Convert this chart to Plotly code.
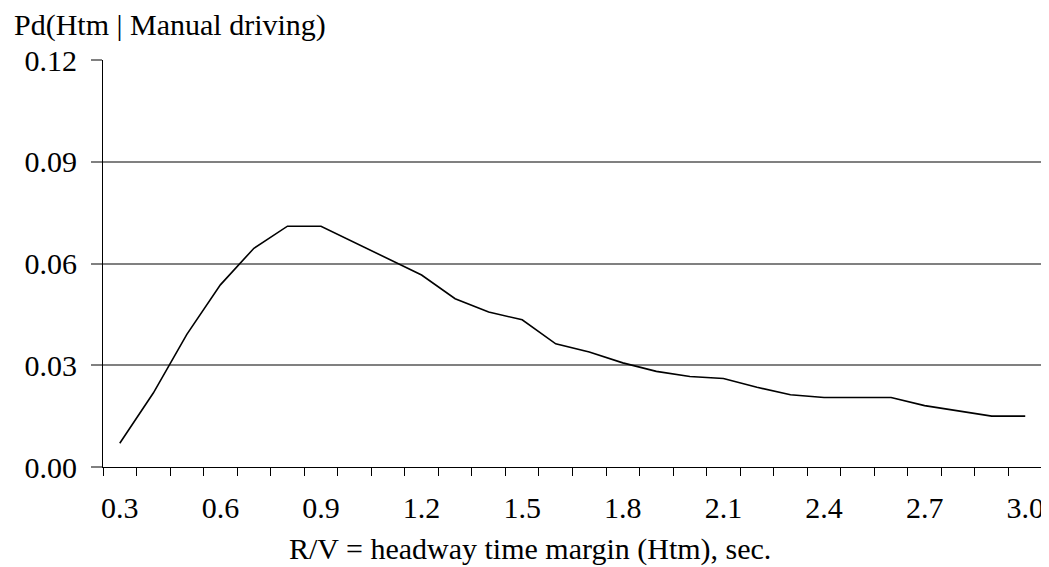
import plotly.graph_objects as go

htm = [0.3, 0.4, 0.5, 0.6, 0.7, 0.8, 0.9, 1.0, 1.1, 1.2, 1.3, 1.4, 1.5, 1.6,
       1.7, 1.8, 1.9, 2.0, 2.1, 2.2, 2.3, 2.4, 2.5, 2.6, 2.7, 2.8, 2.9, 3.0]
pd_manual = [0.0070, 0.0218, 0.0391, 0.0537, 0.0645, 0.0710, 0.0710, 0.0662,
             0.0615, 0.0566, 0.0496, 0.0457, 0.0434, 0.0363, 0.0339, 0.0307,
             0.0282, 0.0267, 0.0261, 0.0235, 0.0213, 0.0205, 0.0205, 0.0205,
             0.0181, 0.0166, 0.0150, 0.0150]
x_tick_vals = [0.3, 0.6, 0.9, 1.2, 1.5, 1.8, 2.1, 2.4, 2.7, 3.0]
x_tick_text = ["0.3", "0.6", "0.9", "1.2", "1.5", "1.8", "2.1", "2.4", "2.7", "3.0"]
y_tick_vals = [0.00, 0.03, 0.06, 0.09, 0.12]
y_tick_text = ["0.00", "0.03", "0.06", "0.09", "0.12"]

FONT = "Liberation Serif, Times New Roman, serif"
FS = 30

fig = go.Figure()
fig.add_trace(go.Scatter(x=htm, y=pd_manual, mode="lines",
                         line=dict(color="black", width=1.6),
                         showlegend=False, hoverinfo="skip"))

fig.update_layout(
    width=1041, height=559,
    margin=dict(l=95, r=7, t=52, b=100),
    paper_bgcolor="white", plot_bgcolor="white",
    font=dict(family=FONT, size=FS, color="black"),
    xaxis=dict(range=[0.25, 3.05], tickmode="array", tickvals=x_tick_vals,
               ticktext=x_tick_text, ticks="", showgrid=False, zeroline=False,
               showline=True, linecolor="black", linewidth=1,
               ticklabelstandoff=14, automargin=False,
               minor=dict(ticks="outside", ticklen=8, tick0=0.25, dtick=0.1,
                          tickcolor="black", tickwidth=1, showgrid=False)),
    yaxis=dict(range=[0, 0.12], tickmode="array", tickvals=y_tick_vals,
               ticktext=y_tick_text, ticks="outside", ticklen=11,
               tickcolor="#808080", tickwidth=1.5, showgrid=True,
               gridcolor="#808080", gridwidth=1.5, zeroline=False,
               showline=True, linecolor="black", linewidth=1,
               ticklabelstandoff=8, automargin=False),
    annotations=[
        dict(text="Pd(Htm | Manual driving)", xref="paper", yref="paper",
             x=-0.0969, y=1.086, xanchor="left", yanchor="middle",
             showarrow=False, font=dict(family=FONT, size=FS)),
        dict(text="R/V = headway time margin (Htm), sec.", xref="paper",
             yref="paper", x=0.4547, y=-0.2015, xanchor="center",
             yanchor="middle", showarrow=False, font=dict(family=FONT, size=FS)),
    ],
)

fig.write_html("out.html")
